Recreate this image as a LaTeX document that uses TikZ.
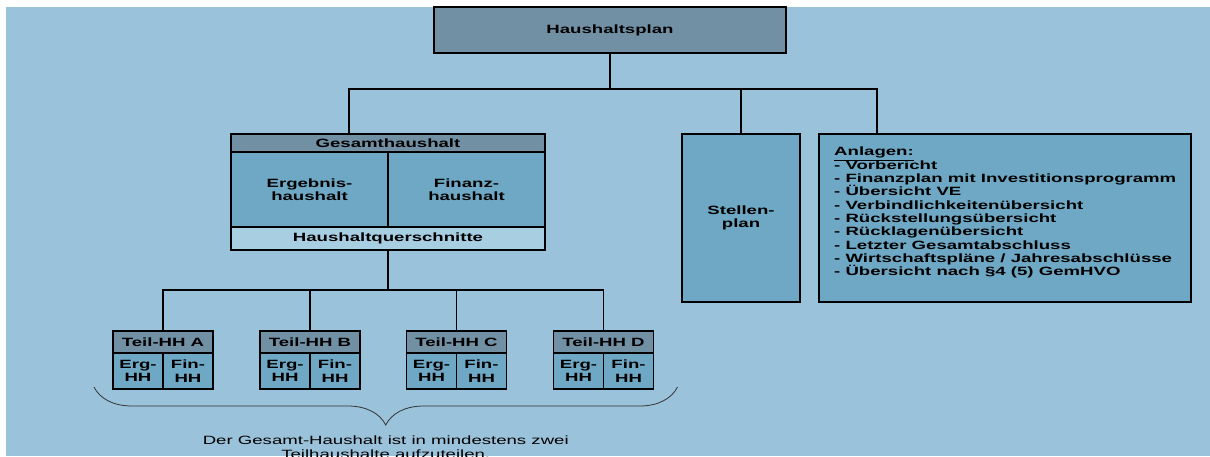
\documentclass[tikz,border=0pt]{standalone}
\usepackage{fontspec}
\setmainfont{Liberation Sans}[FakeStretch=1.55]
\usepackage{tikz}
\usetikzlibrary{positioning,decorations.pathreplacing}

\definecolor{bgblue}{RGB}{155,194,219}
\definecolor{hdrgrey}{RGB}{114,144,164}
\definecolor{cellblue}{RGB}{111,168,196}
\definecolor{lightblue}{RGB}{168,206,226}

\tikzset{
  box/.style={draw, line width=1.6pt, outer sep=0pt, inner sep=0pt, align=center,
    font=\fontsize{12}{13.5}\selectfont\bfseries},
  kopf/.style={box, fill=hdrgrey},
  feld/.style={box, fill=cellblue},
  tkopf/.style={kopf, minimum width=100pt, minimum height=22pt},
  thalb/.style={feld, minimum width=50pt, minimum height=36pt},
  conn/.style={line width=1.6pt},
}

\begin{document}
\begin{tikzpicture}[x=1pt,y=1pt]
\useasboundingbox (0,0) rectangle (1210,-456);
\fill[bgblue] (6,-7) rectangle (1210,-456);

\node (HP) [kopf, minimum width=352pt, minimum height=46pt] at (610,-30) {Haushaltsplan};

% Gesamthaushalt
\node (GH) [kopf, minimum width=314pt, minimum height=18pt] at (388,-143) {Gesamthaushalt};
\node (EH) [feld, minimum width=157pt, minimum height=75pt, anchor=north west] at (GH.south west) {Ergebnis-\\haushalt};
\node (FH) [feld, minimum width=157pt, minimum height=75pt, right=0pt of EH] {Finanz-\\haushalt};
\node (QS) [box, fill=lightblue, minimum width=314pt, minimum height=23pt, anchor=north west] at (EH.south west) {Haushaltquerschnitte};

\node (SP) [feld, minimum width=118pt, minimum height=168pt] at (741,-218) {Stellen-\\plan};
\node (AN) [feld, minimum width=372pt, minimum height=168pt, right=19pt of SP] {};
\node (ANtext) [anchor=north west, align=left, inner sep=0pt, font=\fontsize{12}{13.3}\selectfont\bfseries]
  at ([xshift=15pt,yshift=-13pt]AN.north west)
  {\underline{Anlagen:}\\- Vorbericht\\- Finanzplan mit Investitionsprogramm\\- Übersicht VE\\- Verbindlichkeitenübersicht\\- Rückstellungsübersicht\\- Rücklagenübersicht\\- Letzter Gesamtabschluss\\- Wirtschaftspläne / Jahresabschlüsse\\- Übersicht nach §4 (5) GemHVO};

% Teilhaushalte
\node (TA) [tkopf] at (163,-342) {Teil-HH A};
\node (TAe) [thalb, anchor=north west] at (TA.south west) {Erg-\\HH};
\node (TAf) [thalb, right=0pt of TAe] {Fin-\\HH};
\node (TB) [tkopf] at (310,-342) {Teil-HH B};
\node (TBe) [thalb, anchor=north west] at (TB.south west) {Erg-\\HH};
\node (TBf) [thalb, right=0pt of TBe] {Fin-\\HH};
\node (TC) [tkopf] at (456.5,-342) {Teil-HH C};
\node (TCe) [thalb, anchor=north west] at (TC.south west) {Erg-\\HH};
\node (TCf) [thalb, right=0pt of TCe] {Fin-\\HH};
\node (TD) [tkopf] at (603.5,-342) {Teil-HH D};
\node (TDe) [thalb, anchor=north west] at (TD.south west) {Erg-\\HH};
\node (TDf) [thalb, right=0pt of TDe] {Fin-\\HH};

% Verbindungen
\path (HP.south) ++(0,-36) coordinate (b1);
\coordinate (GHin) at ([xshift=-39pt]GH.north);
\coordinate (ANin) at ([xshift=58pt]AN.north west);
\draw[conn] (HP.south) -- (b1);
\draw[conn] (GHin) |- (b1) -| (ANin);
\draw[conn] (SP.north) -- (SP.north |- b1);

\path (QS.south) ++(0,-40) coordinate (b2);
\draw[conn] (QS.south) -- (b2);
\draw[conn] (TA.north) |- (b2) -| (TD.north);
\draw[conn] (TB.north) -- (TB.north |- b2);
\draw[conn] (TC.north) -- (TC.north |- b2);

% Klammer
\coordinate (brl) at ([xshift=-19pt,yshift=2pt]TAe.south west);
\coordinate (brr) at ([xshift=24pt,yshift=2pt]TDf.south east);
\draw[line width=0.8pt, black!80, decorate, decoration={brace, mirror, amplitude=38pt}] (brl) -- (brr);
\path (brl) -- (brr) coordinate[midway] (brm);
\node (note) [below=49pt of brm, inner sep=0pt, align=center, font=\fontsize{12}{13.5}\selectfont]
  {Der Gesamt-Haushalt ist in mindestens zwei\\Teilhaushalte aufzuteilen.};
\end{tikzpicture}
\end{document}
